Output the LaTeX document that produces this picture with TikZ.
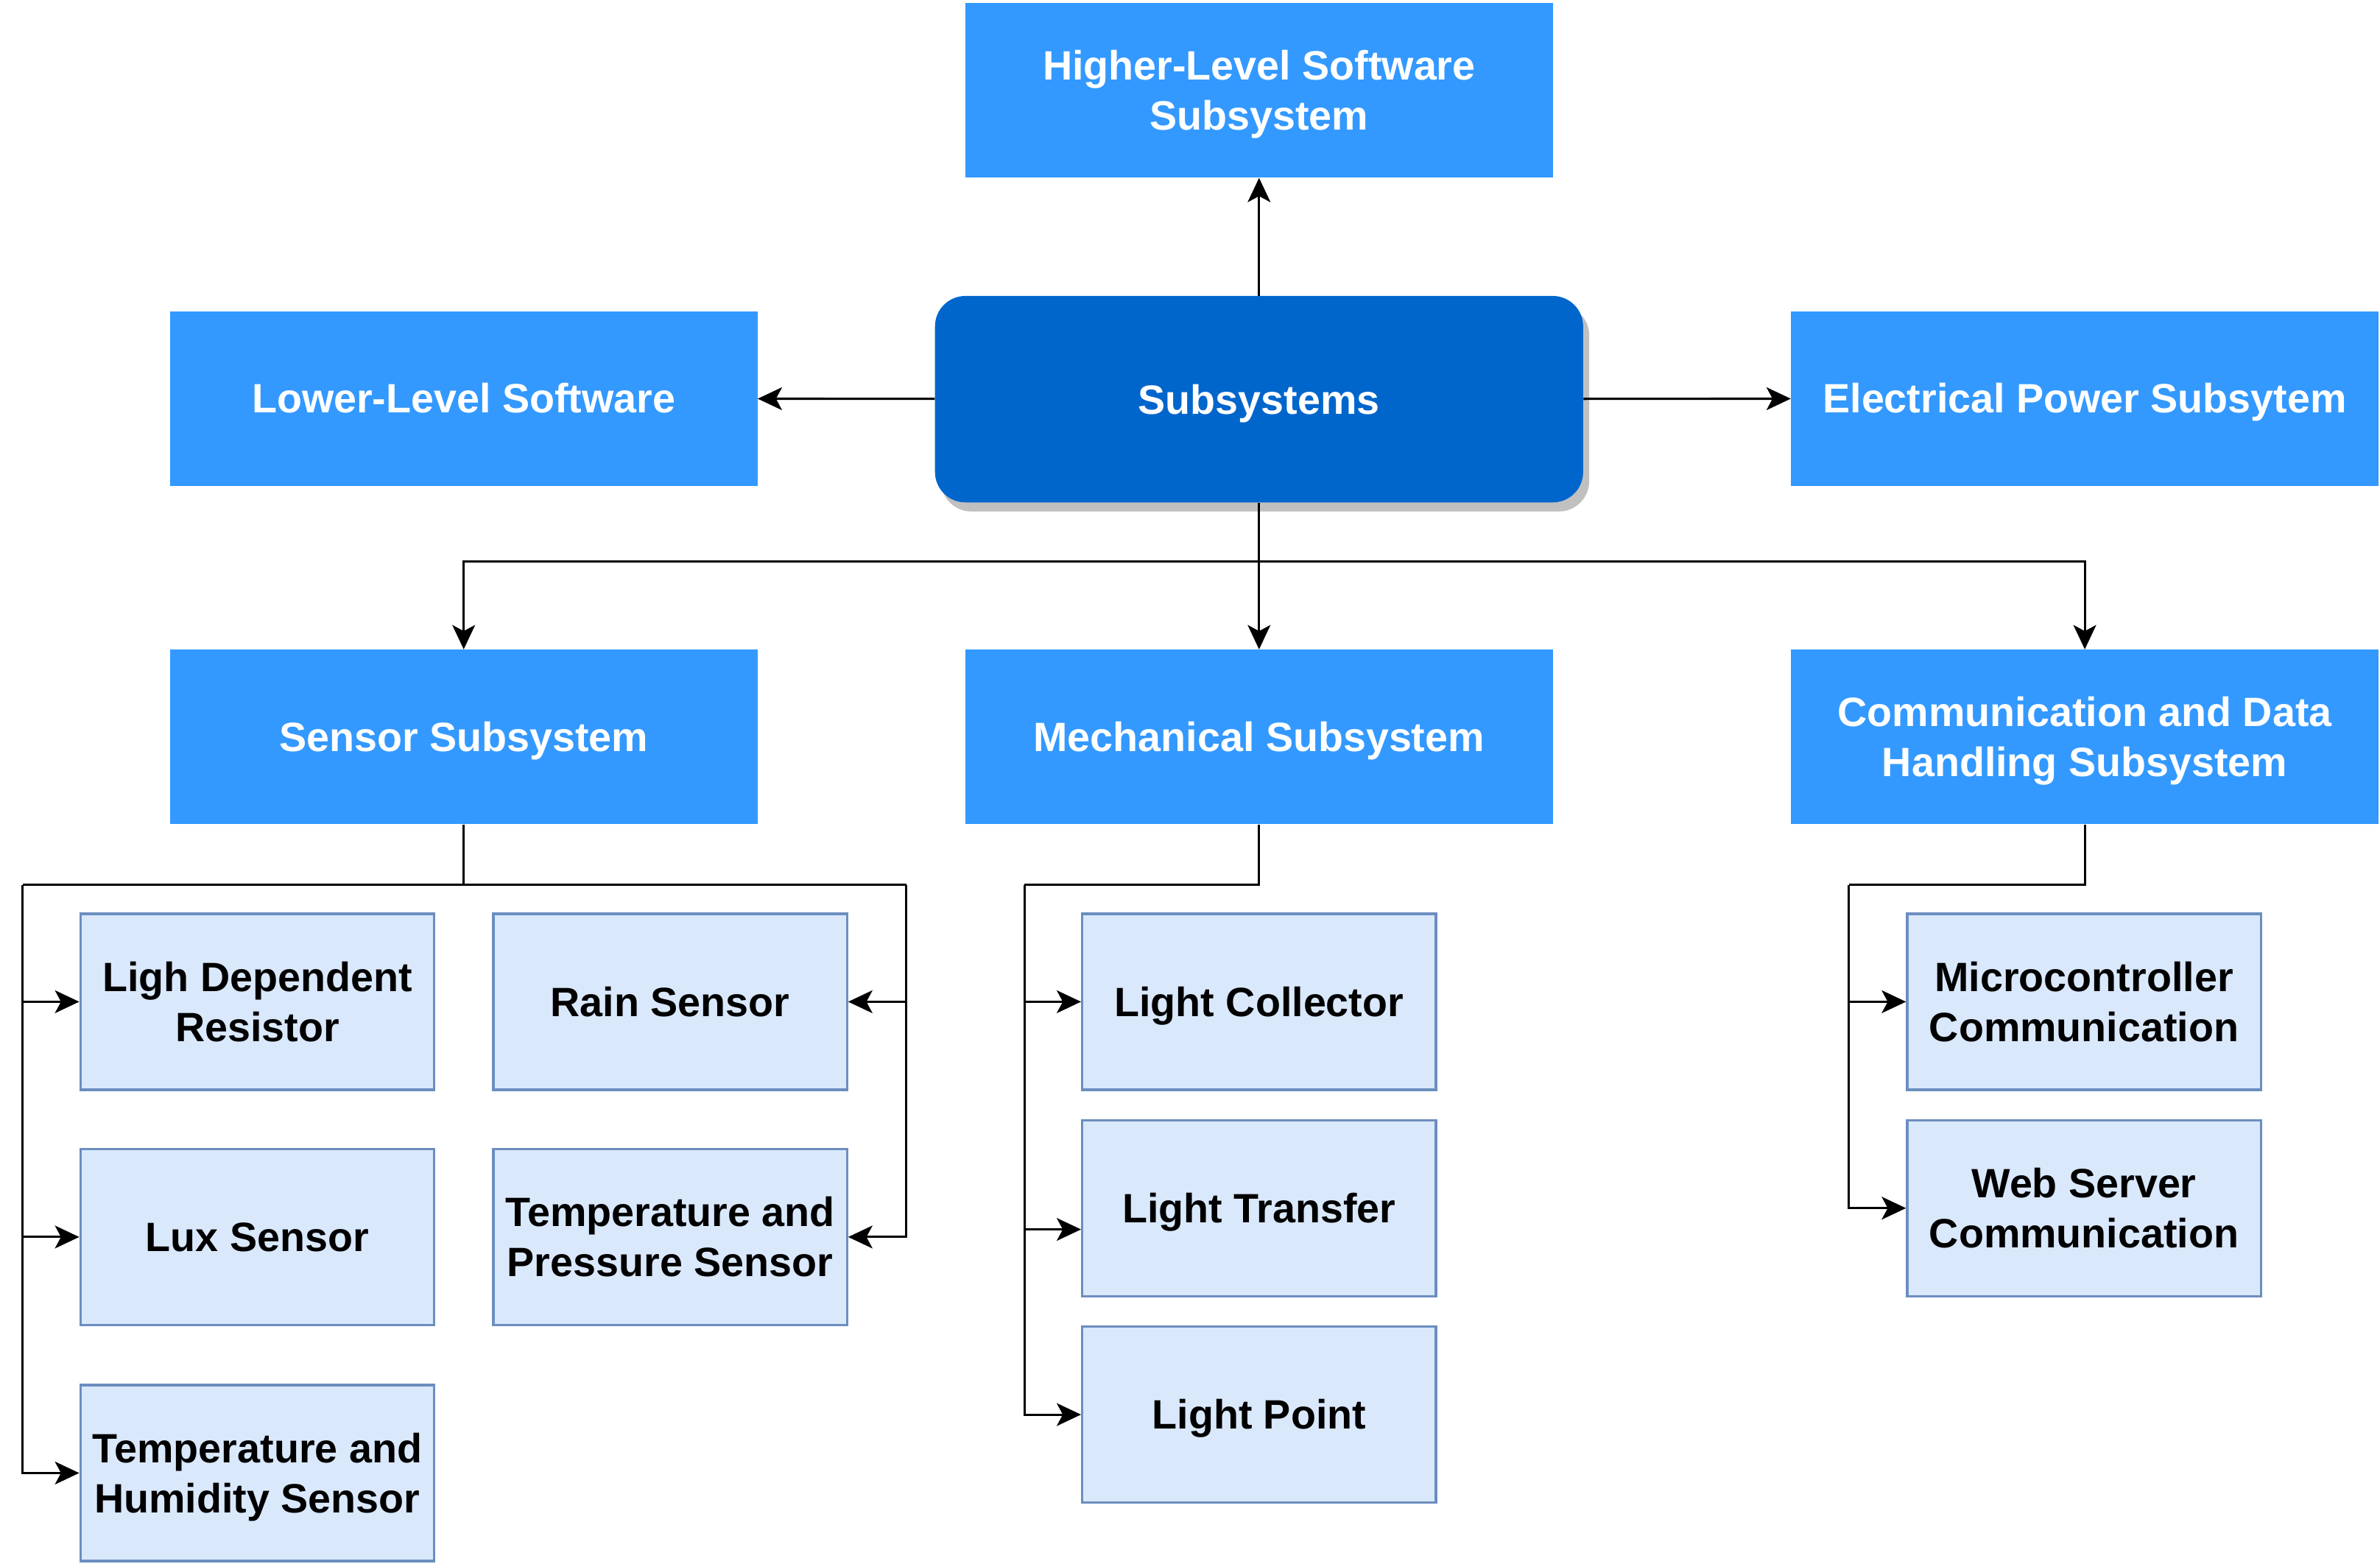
\documentclass[tikz,border=0pt]{standalone}
\usepackage{fontspec}
\setmainfont{Liberation Sans}
\usetikzlibrary{arrows.meta,shadows}
\definecolor{mainblue}{HTML}{3399FF}
\definecolor{hubblue}{HTML}{0066CC}
\definecolor{partfill}{HTML}{DAE8FC}
\definecolor{partdraw}{HTML}{6C8EBF}
\definecolor{shadowgray}{HTML}{C0C0C0}
\tikzset{
  boxfont/.style={font=\bfseries\fontsize{27}{33}\selectfont, text height=20pt, text depth=0.7pt},
  twoline/.style={text height=53pt},
  subbox/.style={boxfont, fill=mainblue, text=white, minimum width=387pt, minimum height=115pt, inner sep=0pt, align=center},
  hubbox/.style={boxfont, fill=hubblue, text=white, rounded corners=20pt, minimum width=427pt, minimum height=136pt, inner sep=0pt,
    drop shadow={shadow xshift=4pt, shadow yshift=-6pt, fill=shadowgray, opacity=1}},
  partbox/.style={boxfont, fill=partfill, draw=partdraw, line width=1.6pt, minimum width=233pt, minimum height=116pt, inner sep=0pt, align=center},
  link/.style={draw=black, line width=1.5pt, -{Stealth[length=16pt, width=15pt, inset=4pt]}},
  wire/.style={draw=black, line width=1.5pt}
}
\begin{document}
\begin{tikzpicture}[x=1pt, y=-1pt]
\useasboundingbox (0,0) rectangle (1568,1030.4);
% top level
\node[hubbox] (hub) at (829.5,263) {Subsystems};
\node[subbox, twoline] (higher) at (829.5,59.5) {Higher-Level Software\\Subsystem};
\node[subbox] (lower) at (305.5,262.5) {Lower-Level Software};
\node[subbox] (power) at (1373.5,262.5) {Electrical Power Subsytem};
\node[subbox] (sensor) at (305.5,485.5) {Sensor Subsystem};
\node[subbox] (mech) at (829.5,485.5) {Mechanical Subsystem};
\node[subbox, twoline] (comm) at (1373.5,485.5) {Communication and Data\\Handling Subsystem};
% sensor parts
\node[partbox, twoline] (ldr) at (169.5,660) {Ligh Dependent\\Resistor};
\node[partbox] (rain) at (441.5,660) {Rain Sensor};
\node[partbox] (lux) at (169.5,815) {Lux Sensor};
\node[partbox, twoline] (tempp) at (441.5,815) {Temperature and\\Pressure Sensor};
\node[partbox, twoline] (temph) at (169.5,970.5) {Temperature and\\Humidity Sensor};
% mechanical parts
\node[partbox] (collector) at (829.5,660) {Light Collector};
\node[partbox] (transfer) at (829.5,796) {Light Transfer};
\node[partbox] (point) at (829.5,932) {Light Point};
% communication parts
\node[partbox, twoline] (micro) at (1373,660) {Microcontroller\\Communication};
\node[partbox, twoline] (web) at (1373,796) {Web Server\\Communication};
% bends
\coordinate (bus) at (829.5,370);
\coordinate (sl) at (15,583);
\coordinate (sr) at (597,583);
\coordinate (ml) at (675,583);
\coordinate (cl) at (1218,583);
% top level links
\draw[link] (hub) -- (higher);
\draw[link] (hub) -- (lower);
\draw[link] (hub) -- (power);
\draw[link] (hub) -- (mech);
\draw[link] (bus) -| (sensor);
\draw[link] (bus) -| (comm);
% sensor links
\draw[wire] (sensor.south) |- (sl);
\draw[wire] (sensor.south) |- (sr);
\draw[link] (sl) |- (ldr.west);
\draw[link] (sl) |- (lux.west);
\draw[link] (sl) |- (temph.west);
\draw[link] (sr) |- (rain.east);
\draw[link] (sr) |- (tempp.east);
% mechanical links
\draw[wire] (mech.south) |- (ml);
\draw[link] (ml) |- (collector.west);
\draw[link] (ml) |- ([yshift=-14pt]transfer.west);
\draw[link] (ml) |- (point.west);
% communication links
\draw[wire] (comm.south) |- (cl);
\draw[link] (cl) |- (micro.west);
\draw[link] (cl) |- (web.west);
\end{tikzpicture}
\end{document}
